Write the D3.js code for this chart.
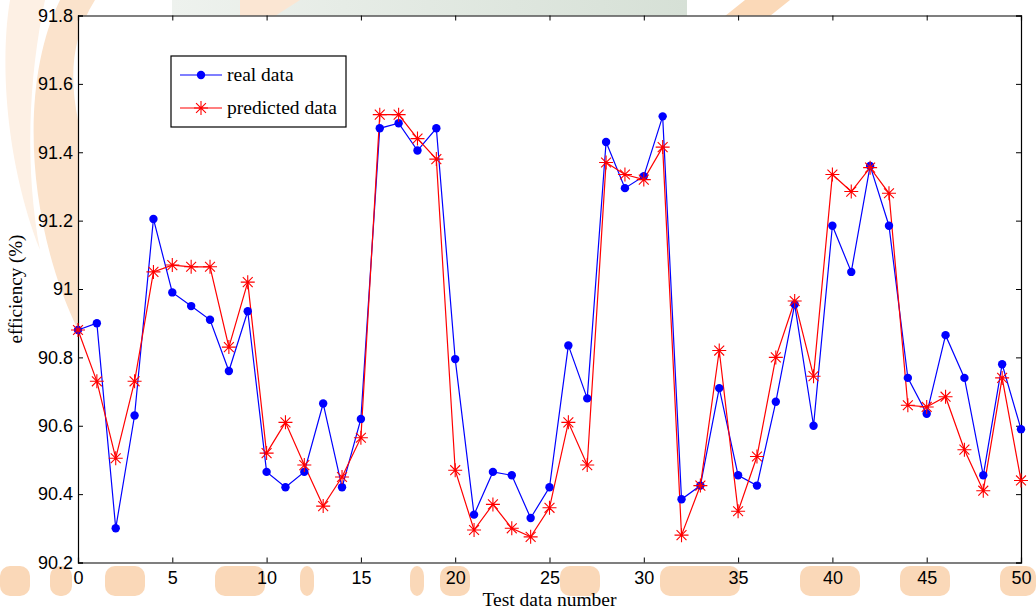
<!DOCTYPE html>
<html>
<head>
<meta charset="utf-8">
<script src="https://cdn.jsdelivr.net/npm/d3@7"></script>
<style>
  body { margin: 0; background: #fff; }
  .tick text { font-family: "Liberation Sans", Arial, sans-serif; font-size: 18px; fill: #000; }
  .domain { stroke: #000; }
  .tick line { stroke: #000; }
</style>
</head>
<body>
<svg id="chart" width="1036" height="611"></svg>
<script>
// データ
const testNumbers = d3.range(0, 51);
const realData = [
  90.88, 90.90, 90.30, 90.63, 91.205, 90.99, 90.95, 90.91, 90.76, 90.935,
  90.465, 90.42, 90.465, 90.665, 90.42, 90.62, 91.47, 91.485, 91.405, 91.47,
  90.795, 90.34, 90.465, 90.455, 90.33, 90.42, 90.835, 90.68, 91.43, 91.295,
  91.33, 91.505, 90.385, 90.425, 90.71, 90.455, 90.425, 90.67, 90.955, 90.60,
  91.185, 91.05, 91.36, 91.185, 90.74, 90.635, 90.865, 90.74, 90.455, 90.78,
  90.59
];
const predictedData = [
  90.88, 90.73, 90.505, 90.73, 91.05, 91.07, 91.065, 91.065, 90.83, 91.02,
  90.52, 90.61, 90.485, 90.365, 90.45, 90.565, 91.51, 91.51, 91.44, 91.38,
  90.47, 90.295, 90.37, 90.30, 90.275, 90.36, 90.61, 90.485, 91.37, 91.335,
  91.32, 91.415, 90.28, 90.425, 90.82, 90.35, 90.51, 90.80, 90.965, 90.745,
  91.335, 91.285, 91.355, 91.28, 90.66, 90.655, 90.685, 90.53, 90.41, 90.74,
  90.44
];
const xTicks = [0, 5, 10, 15, 20, 25, 30, 35, 40, 45, 50];
const yTicks = [90.2, 90.4, 90.6, 90.8, 91, 91.2, 91.4, 91.6, 91.8];
const legendLabels = ["real data", "predicted data"];

const svg = d3.select("#chart");
const mLeft = 78, mRight = 1021, mTop = 15.5, mBottom = 562.5;
const serif = "'Liberation Serif', 'Times New Roman', serif";

const x = d3.scaleLinear().domain([0, 50]).range([mLeft, mRight]);
const y = d3.scaleLinear().domain([90.2, 91.8]).range([mBottom, mTop]);

// 背景の透かし（おおまかに）
const wm = svg.append("g").attr("class", "watermark");
const grad = svg.append("defs").append("linearGradient")
    .attr("id", "topband").attr("x1", 0).attr("x2", 1);
grad.append("stop").attr("offset", 0).attr("stop-color", "#eef2ee");
grad.append("stop").attr("offset", 1).attr("stop-color", "#d6e0d6");
wm.append("rect").attr("x", 172).attr("y", 0).attr("width", 515).attr("height", 16).attr("fill", "url(#topband)");
wm.append("path").attr("d", "M 240 0 L 300 0 L 275 16 L 240 16 Z").attr("fill", "#fbe6d3");
wm.append("path").attr("d", "M 725 16 L 745 0 L 790 0 L 770 16 Z").attr("fill", "#fbd9b8");
wm.append("path")
    .attr("d", "M 60 0 C 20 80, 25 220, 78 330 L 78 120 C 70 80, 70 40, 95 0 Z")
    .attr("fill", "#fbe3cc");
wm.append("path")
    .attr("d", "M 10 0 C 0 60, 5 160, 40 250 C 25 170, 28 80, 45 0 Z")
    .attr("fill", "#fdf0e4");
// 下の文字っぽい透かし
const bottomBlobs = [[0, 30], [50, 22], [105, 40], [215, 50], [300, 14], [410, 14], [440, 30], [560, 40], [660, 80], [800, 60], [900, 50], [1000, 36]];
wm.selectAll("rect.blob").data(bottomBlobs).join("rect")
    .attr("class", "blob")
    .attr("x", d => d[0]).attr("y", 566)
    .attr("width", d => d[1]).attr("height", 30)
    .attr("rx", 10)
    .attr("fill", "#fad8b8");

// プロット領域
svg.append("rect")
    .attr("x", mLeft).attr("y", mTop)
    .attr("width", mRight - mLeft).attr("height", mBottom - mTop)
    .attr("fill", "#fff");

// 軸（目盛りは内向き）
svg.append("g")
    .attr("transform", `translate(0,${mBottom})`)
    .call(d3.axisBottom(x).tickValues(xTicks).tickSize(-5).tickPadding(9).tickFormat(d3.format("d")));

svg.append("g")
    .attr("transform", `translate(0,${mTop})`)
    .call(d3.axisTop(x).tickValues(xTicks).tickSize(-5).tickFormat(""));

svg.append("g")
    .attr("transform", `translate(${mLeft},0)`)
    .call(d3.axisLeft(y).tickValues(yTicks).tickSize(-5).tickPadding(5).tickFormat(d => d3.format(".1f")(d).replace(/\.0$/, "")));

svg.append("g")
    .attr("transform", `translate(${mRight},0)`)
    .call(d3.axisRight(y).tickValues(yTicks).tickSize(-5).tickFormat(""));

svg.selectAll(".domain").attr("stroke-width", 1.2);

// 線
const line = d3.line().x((d, i) => x(testNumbers[i])).y(d => y(d));

svg.append("path")
    .datum(realData)
    .attr("fill", "none")
    .attr("stroke", "#0000ff")
    .attr("stroke-width", 1.2)
    .attr("d", line);

svg.append("path")
    .datum(predictedData)
    .attr("fill", "none")
    .attr("stroke", "#ff0000")
    .attr("stroke-width", 1.2)
    .attr("d", line);

// アスタリスク
function star(g, cx, cy, r) {
    const d = [];
    for (let k = 0; k < 4; k++) {
        const a = k * Math.PI / 4;
        const dx = r * Math.cos(a), dy = r * Math.sin(a);
        d.push(`M${cx - dx},${cy - dy}L${cx + dx},${cy + dy}`);
    }
    g.append("path").attr("d", d.join("")).attr("stroke", "#ff0000").attr("stroke-width", 1.1).attr("fill", "none");
}

svg.append("g").selectAll("circle")
    .data(realData)
    .join("circle")
    .attr("cx", (d, i) => x(testNumbers[i]))
    .attr("cy", d => y(d))
    .attr("r", 4.2)
    .attr("fill", "#0000ff");

const stars = svg.append("g");
predictedData.forEach((d, i) => star(stars, x(testNumbers[i]), y(d), 7));

// 凡例
const legend = svg.append("g");
legend.append("rect")
    .attr("x", 171).attr("y", 56).attr("width", 175).attr("height", 71)
    .attr("fill", "#fff").attr("stroke", "#000").attr("stroke-width", 1.2);
[75, 108].forEach((ly, i) => {
    legend.append("line")
        .attr("x1", 180).attr("x2", 222).attr("y1", ly).attr("y2", ly)
        .attr("stroke", i === 0 ? "#0000ff" : "#ff0000").attr("stroke-width", 1.2);
    if (i === 0) {
        legend.append("circle").attr("cx", 201).attr("cy", ly).attr("r", 4.2).attr("fill", "#0000ff");
    } else {
        star(legend, 201, ly, 7);
    }
    legend.append("text")
        .attr("x", 227).attr("y", ly + 6)
        .attr("font-family", serif)
        .attr("font-size", 19.5)
        .text(legendLabels[i]);
});

// 軸ラベル
svg.append("text")
    .attr("x", (mLeft + mRight) / 2).attr("y", 606)
    .attr("text-anchor", "middle")
    .attr("font-family", serif)
    .attr("font-size", 19.5)
    .text("Test data number");

svg.append("text")
    .attr("transform", `translate(22,${(mTop + mBottom) / 2}) rotate(-90)`)
    .attr("text-anchor", "middle")
    .attr("font-family", serif)
    .attr("font-size", 19)
    .text("efficiency (%)");
</script>
</body>
</html>
